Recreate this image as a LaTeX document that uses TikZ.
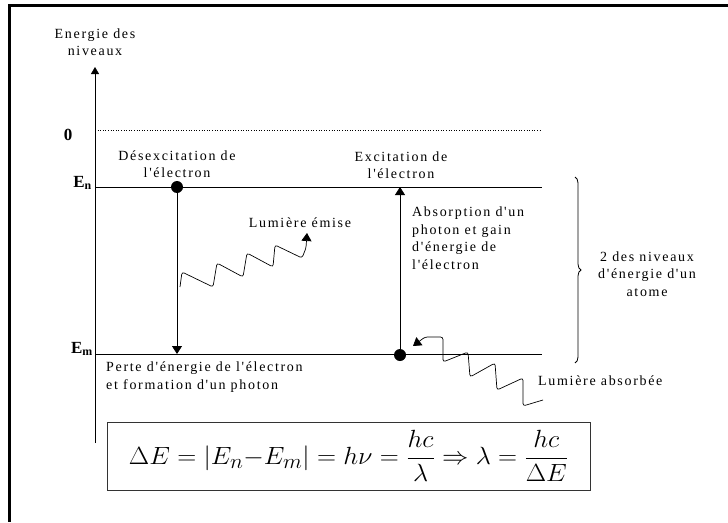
\documentclass[tikz,border=0pt]{standalone}
\usepackage{amsmath}
\usepackage{fontspec}
\setmainfont{Liberation Serif}
\newfontfamily\lblfont{Liberation Serif}[LetterSpace=12]
\usetikzlibrary{arrows.meta,positioning,decorations.pathreplacing}

\begin{document}
\begin{tikzpicture}[x=1pt, y=-1pt,
  font=\lblfont\fontsize{14}{17.5}\selectfont,
  lbl/.style={align=center, inner sep=0pt},
  lvl/.style={line width=0.8pt},
  arr/.style={-{Triangle[length=8pt,width=10pt]}, line width=0.8pt},
  dot/.style={circle, fill, inner sep=0pt, minimum size=12pt},
  photon/.style={-{Triangle[length=8pt,width=10pt]}, line width=0.7pt, rounded corners=2.5pt},
  levname/.style={font=\bfseries\fontsize{17}{18}\selectfont, inner sep=0pt}]
  \useasboundingbox (0,0) rectangle (728,522);
  \draw[line width=3pt] (728,5) -- (9.5,5) -- (9.5,522);

  \coordinate (axbot) at (95,443);
  \coordinate (axtop) at (95,67);
  \draw[-{Triangle[length=7pt,width=8pt]}, line width=0.8pt] (axbot) -- (axtop);
  \node[lbl] (axlbl) at (95,42) {Energie des\\niveaux};

  \coordinate (zl) at (95,130);
  \coordinate (zr) at (540,130);
  \coordinate (nl) at (95,187);
  \coordinate (nr) at (542,187);
  \coordinate (ml) at (95,354);
  \coordinate (mr) at (542,354);
  \draw[dotted, line width=0.6pt] (zl) -- (zr);
  \draw[lvl] (nl) -- (nr);
  \draw[lvl] (ml) -- (mr);
  \node[levname] (zero) at (68,135) {0};
  \node[levname, anchor=east] (en) at (92,183) {E\textsubscript{n}};
  \node[levname, anchor=east] (em) at (93,349) {E\textsubscript{m}};

  \node[dot] (dn) at (177,187) {};
  \node[dot] (dm) at (400,355) {};
  \draw[arr] (dn) -- (dn |- ml);
  \draw[arr] (dm) -- (dm |- nl);

  \node[lbl] (desex) at (177,164) {Désexcitation de\\l'électron};
  \node[lbl] (excit) at (401,165) {Excitation de\\l'électron};
  \node[lbl, align=left, anchor=west] (absorb) at (412,238)
    {Absorption d'un\\photon et gain\\d'énergie de\\l'électron};
  \node[lbl, align=left, anchor=west] (perte) at (106,377)
    {Perte d'énergie de l'électron\\et formation d'un photon};
  \node[lbl] (emise) at (300,223) {Lumière émise};
  \node[lbl, anchor=west] (absorbee) at (538,381) {Lumière absorbée};
  \node[lbl] (deux) at (647,274) {2 des niveaux\\d'énergie d'un\\atome};

  \coordinate (bt) at (575,177);
  \coordinate (bb) at (575,363);
  \draw[decorate, decoration={brace, amplitude=6pt}, line width=0.8pt] (bt) -- (bb);

  \coordinate (es) at (180,287);
  \coordinate (ee) at (307,233);
  \draw[photon] (es) -- (182,272) -- (213,287) -- (217,263) -- (243,277) -- (247,253)
    -- (273,267) -- (275,245) -- (302,258) -- (306,248) -- (ee);
  \coordinate (as) at (543,400);
  \coordinate (ae) at (413,346);
  \draw[photon] (as) -- (523,406) -- (523,378) -- (497,390) -- (495,363) -- (470,377)
    -- (468,352) -- (443,362) -- (443,337) -- (425,337) -- (ae);

  \node[draw=black!80, line width=0.9pt, inner sep=0pt, minimum width=483pt, minimum height=68pt,
    font=\fontsize{28}{31}\selectfont] (formule) at (348.5,456)
    {\scalebox{1.06}[1]{$\Delta E=\left|E_n{-}E_m\right|=h\nu=\dfrac{hc}{\lambda}\Rightarrow\lambda=\dfrac{hc}{\Delta E}$}};
\end{tikzpicture}
\end{document}
